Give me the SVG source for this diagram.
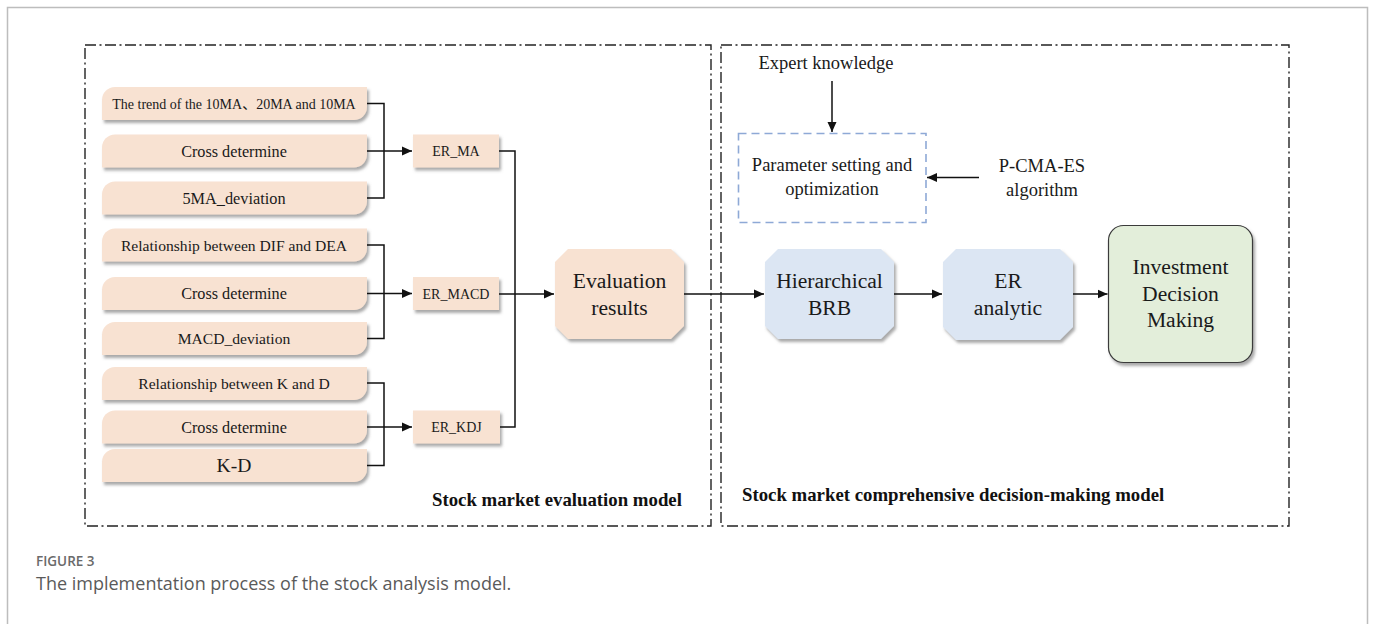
<svg xmlns="http://www.w3.org/2000/svg" width="1375" height="624" viewBox="0 0 1375 624">
  <defs>
    <style>
      .frame { fill: none; stroke: #222; stroke-width: 1.4; stroke-dasharray: 11 3.5 2 3.5; }
      .outer { fill: none; stroke: #bdbdbd; stroke-width: 1.5; }
      .inp { fill: #F8E2D2; filter: url(#sh); }
      .er { fill: #F8E2D2; filter: url(#sh); }
      .peach { fill: #F8E2D2; filter: url(#sh); }
      .blue { fill: #DCE6F3; filter: url(#sh); }
      .green { fill: #E3EEDA; stroke: #3a3a3a; stroke-width: 1.2; filter: url(#sh); }
      .param { fill: #fff; stroke: #8EA9D6; stroke-width: 1.6; stroke-dasharray: 8 5; }
      text.t { fill: #1a1a1a; text-anchor: middle; }
      text.b { fill: #111; font-weight: bold; font-size: 18.8px; }
      .ln { fill: none; stroke: #111; stroke-width: 1.5; }
      .cap1 { font-family: "Open Sans", "Noto Sans", sans-serif; font-size: 13.5px; font-weight: 600; fill: #6a6a6a; }
      .cap2 { font-family: "Open Sans", "Noto Sans", sans-serif; font-size: 18px; fill: #5a5a5a; }
    </style>
    <filter id="sh" x="-10%" y="-20%" width="125%" height="150%">
      <feDropShadow dx="2" dy="3" stdDeviation="1.8" flood-color="#6f6f6f" flood-opacity="0.6"/>
    </filter>
    <marker id="ah" viewBox="0 0 10 10" refX="10" refY="5" markerWidth="10" markerHeight="10" markerUnits="userSpaceOnUse" orient="auto">
      <path d="M0,0.5 L10,5 L0,9.5 Z" fill="#111"/>
    </marker>
    <!-- indicator box: rounded top-left and bottom-right corners -->
    <path id="ind" d="M115,0 H367 V20 A13 13 0 0 1 354,33 H102 V13 A13 13 0 0 1 115,0 Z"/>
  </defs>

  <!-- page frame -->
  <path class="outer" d="M7.5,640 V7.5 H1367.5 V640"/>

  <!-- model frames -->
  <rect class="frame" x="85" y="45" width="626" height="481"/>
  <rect class="frame" x="721" y="45" width="568" height="481"/>

  <!-- shapes -->
  <use href="#ind" class="inp" y="87"/>
  <use href="#ind" class="inp" y="134.5"/>
  <use href="#ind" class="inp" y="181.5"/>
  <use href="#ind" class="inp" y="228.5"/>
  <use href="#ind" class="inp" y="277"/>
  <use href="#ind" class="inp" y="322"/>
  <use href="#ind" class="inp" y="367"/>
  <use href="#ind" class="inp" y="410.5"/>
  <use href="#ind" class="inp" y="449"/>
  <rect class="er" x="413" y="134.5" width="86" height="33"/>
  <rect class="er" x="413" y="277" width="86" height="33"/>
  <rect class="er" x="413" y="410.5" width="87" height="33"/>
  <path class="peach" d="M568,249 H671 L684,262 V326 L671,339 H568 L555,326 V262 Z"/>
  <rect class="param" x="738.5" y="133.5" width="187.5" height="89"/>
  <path class="blue" d="M778,249 H881 L894,262 V326 L881,339 H778 L765,326 V262 Z"/>
  <path class="blue" d="M956,249 H1060 L1073,262 V327 L1060,340 H956 L943,327 V262 Z"/>
  <rect class="green" x="1108.5" y="225.5" width="144" height="137" rx="15" ry="15"/>

  <!-- labels -->
  <g font-family="Liberation Serif, Times New Roman, serif">
    <g id="n-ma-trend"><text class="t" x="234" y="108.5" font-size="14">The trend of the 10MA<tspan font-family="Noto Sans CJK SC, sans-serif">、</tspan>20MA and 10MA</text></g>
    <g id="n-ma-cross"><text class="t" x="234" y="156.5" font-size="16.2">Cross determine</text></g>
    <g id="n-ma-dev"><text class="t" x="234" y="203.5" font-size="16.3">5MA_deviation</text></g>
    <g id="n-macd-rel"><text class="t" x="234" y="250.5" font-size="15.6">Relationship between DIF and DEA</text></g>
    <g id="n-macd-cross"><text class="t" x="234" y="299" font-size="16.2">Cross determine</text></g>
    <g id="n-macd-dev"><text class="t" x="234" y="344" font-size="15.6">MACD_deviation</text></g>
    <g id="n-kdj-rel"><text class="t" x="234" y="389" font-size="15.6">Relationship between K and D</text></g>
    <g id="n-kdj-cross"><text class="t" x="234" y="432.5" font-size="16.2">Cross determine</text></g>
    <g id="n-kdj-kd"><text class="t" x="234" y="472" font-size="19.6">K-D</text></g>
    <g id="n-er-ma"><text class="t" x="456" y="156" font-size="14">ER_MA</text></g>
    <g id="n-er-macd"><text class="t" x="456" y="298.5" font-size="14">ER_MACD</text></g>
    <g id="n-er-kdj"><text class="t" x="456.5" y="432" font-size="14">ER_KDJ</text></g>
    <g id="n-eval">
      <text class="t" x="619.5" y="288" font-size="21.6">Evaluation</text>
      <text class="t" x="619.5" y="315" font-size="21.6">results</text>
    </g>
    <g id="n-expert"><text class="t" x="826" y="68.5" font-size="18.5">Expert knowledge</text></g>
    <g id="n-param">
      <text class="t" x="832" y="170.5" font-size="18.5">Parameter setting and</text>
      <text class="t" x="832" y="195" font-size="18.5">optimization</text>
    </g>
    <g id="n-pcma">
      <text class="t" x="1042" y="171.5" font-size="18.5">P-CMA-ES</text>
      <text class="t" x="1042" y="195.5" font-size="18.5">algorithm</text>
    </g>
    <g id="n-brb">
      <text class="t" x="829.5" y="288" font-size="21.6">Hierarchical</text>
      <text class="t" x="829.5" y="315" font-size="21.6">BRB</text>
    </g>
    <g id="n-er-analytic">
      <text class="t" x="1008" y="288" font-size="21.6">ER</text>
      <text class="t" x="1008" y="315" font-size="21.6">analytic</text>
    </g>
    <g id="n-invest">
      <text class="t" x="1180.5" y="274" font-size="21.6">Investment</text>
      <text class="t" x="1180.5" y="300.5" font-size="21.6">Decision</text>
      <text class="t" x="1180.5" y="327" font-size="21.6">Making</text>
    </g>
    <!-- section titles -->
    <text class="b" x="432" y="506">Stock market evaluation model</text>
    <text class="b" x="742" y="501">Stock market comprehensive decision-making model</text>
  </g>

  <!-- connectors -->
  <g id="connectors">
    <path class="ln" d="M367,103.5 H384 V198 H367"/>
    <path class="ln" d="M367,151 H412" marker-end="url(#ah)"/>
    <path class="ln" d="M367,245 H384 V338.5 H367"/>
    <path class="ln" d="M367,293.5 H412" marker-end="url(#ah)"/>
    <path class="ln" d="M367,383 H384 V465.5 H367"/>
    <path class="ln" d="M367,427 H412" marker-end="url(#ah)"/>
    <path class="ln" d="M499,151 H515 V427 H500"/>
    <path class="ln" d="M499,294 H554" marker-end="url(#ah)"/>
    <path class="ln" d="M684,294 H764" marker-end="url(#ah)"/>
    <path class="ln" d="M894,294 H942" marker-end="url(#ah)"/>
    <path class="ln" d="M1073,294 H1107.5" marker-end="url(#ah)"/>
    <path class="ln" d="M832,81 V132" marker-end="url(#ah)"/>
    <path class="ln" d="M979,177.5 H927" marker-end="url(#ah)"/>
  </g>

  <!-- caption -->
  <text class="cap1" x="36" y="566">FIGURE 3</text>
  <text class="cap2" x="36" y="590">The implementation process of the stock analysis model.</text>
</svg>
